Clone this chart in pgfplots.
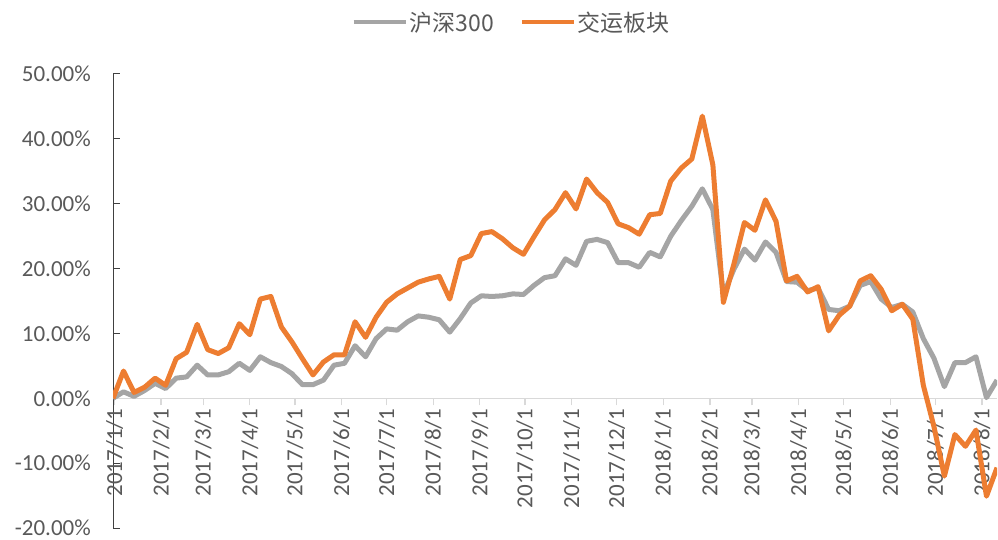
\documentclass[border=0pt]{standalone}
\usepackage{pgfplots}
\pgfplotsset{compat=1.18}
\usepackage{pgfplotstable}
\usepackage{fontspec}
\setmainfont{Carlito}
\newfontfamily\cjk{Noto Sans CJK SC}
\definecolor{hsgray}{HTML}{A5A5A5}
\definecolor{jyorange}{HTML}{ED7D31}
\definecolor{labelgray}{HTML}{595959}
\definecolor{axisdark}{HTML}{404040}
\definecolor{axislight}{HTML}{D9D9D9}

% weekly cumulative returns (%), day = days since 2017/1/1
\pgfplotstableread{
day hs jy
-1 0.0 0.0
6 1.0 4.2
13 0.3 0.9
20 1.2 1.7
27 2.3 3.1
34 1.5 2.0
41 3.1 6.1
48 3.3 7.1
55 5.1 11.4
62 3.6 7.5
69 3.6 6.9
76 4.1 7.8
83 5.4 11.5
90 4.3 9.8
97 6.4 15.3
104 5.5 15.7
111 4.9 11.0
118 3.8 8.7
125 2.1 6.1
132 2.1 3.6
139 2.8 5.6
146 5.1 6.7
153 5.4 6.7
160 8.1 11.8
167 6.4 9.4
174 9.2 12.5
181 10.7 14.8
188 10.5 16.1
195 11.8 17.0
202 12.7 17.9
209 12.5 18.4
216 12.1 18.8
223 10.2 15.3
230 12.3 21.4
237 14.7 22.0
244 15.8 25.4
251 15.7 25.7
258 15.8 24.6
265 16.1 23.2
272 16.0 22.2
279 17.4 24.9
286 18.6 27.5
293 18.9 29.1
300 21.5 31.7
307 20.5 29.2
314 24.2 33.8
321 24.5 31.7
328 24.0 30.2
335 20.9 26.9
342 20.9 26.3
349 20.2 25.3
356 22.5 28.3
363 21.8 28.5
370 25.0 33.5
377 27.4 35.5
384 29.6 36.9
391 32.3 43.5
398 29.1 36.0
405 16.0 14.8
412 19.9 20.7
419 23.0 27.1
426 21.3 25.9
433 24.1 30.6
440 22.5 27.3
447 18.0 18.1
454 17.9 18.8
461 16.6 16.4
468 17.0 17.2
475 13.7 10.4
482 13.5 12.8
489 14.2 14.2
496 17.4 18.1
503 18.0 18.9
510 15.3 16.8
517 14.0 13.5
524 14.5 14.5
531 13.3 12.2
538 9.2 2.0
545 6.2 -4.3
552 1.8 -12.0
559 5.5 -5.6
566 5.5 -7.4
573 6.4 -4.9
580 0.1 -15.1
587 2.8 -10.7
}\weekly

\begin{document}
\begin{tikzpicture}
\useasboundingbox (0,0) rectangle (998bp,540bp);
\begin{axis}[
  at={(113bp,12bp)}, anchor=south west,
  scale only axis, width=884bp, height=454bp,
  xmin=-1, xmax=587, ymin=-20, ymax=50,
  axis x line*=middle, axis y line*=left,
  hide obscured x ticks=false, hide obscured y ticks=false,
  x axis line style={color=axislight, line width=1.3bp},
  y axis line style={color=axisdark, line width=1bp},
  xtick={0,31,59,90,120,151,181,212,243,273,304,334,365,396,424,455,485,516,546,577},
  xticklabels={2017/1/1,2017/2/1,2017/3/1,2017/4/1,2017/5/1,2017/6/1,2017/7/1,2017/8/1,2017/9/1,2017/10/1,2017/11/1,2017/12/1,2018/1/1,2018/2/1,2018/3/1,2018/4/1,2018/5/1,2018/6/1,2018/7/1,2018/8/1},
  ytick={-20,-10,0,10,20,30,40,50},
  yticklabels={-20.00\%,-10.00\%,0.00\%,10.00\%,20.00\%,30.00\%,40.00\%,50.00\%},
  xtick align=outside, ytick align=inside,
  major tick length=7bp,
  x tick style={color=axislight, line width=1.3bp},
  y tick style={color=axisdark, line width=1bp},
  ticklabel style={font=\fontsize{23bp}{27bp}\selectfont, text=labelgray},
  xticklabel style={rotate=90, anchor=east},
  yticklabel style={anchor=east, inner sep=1bp, xshift=-21bp},
  legend style={at={(0.451,1.114)}, anchor=center, draw=none, fill=none,
    legend columns=2, font=\cjk\fontsize{23bp}{27bp}\selectfont, text=labelgray,
    /tikz/every even column/.append style={column sep=24bp}},
  legend image code/.code={\draw[#1, line width=4bp] (0bp,0bp) -- (52bp,0bp);},
]
\addplot[hsgray, line width=5bp, line join=round, no marks] table[x=day, y=hs]{\weekly};
\addplot[jyorange, line width=5bp, line join=round, no marks] table[x=day, y=jy]{\weekly};
\legend{沪深300, 交运板块}
\end{axis}
\end{tikzpicture}
\end{document}
